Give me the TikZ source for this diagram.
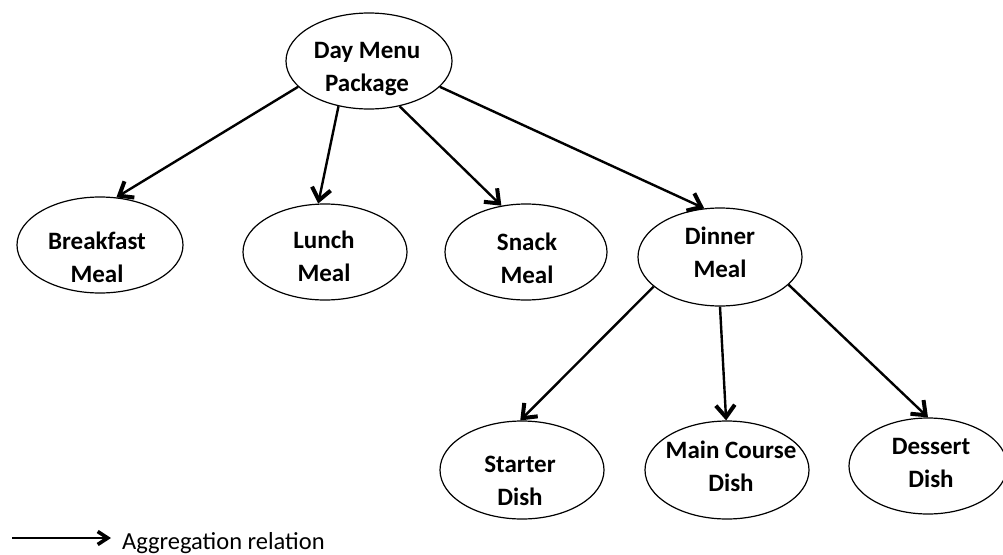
\documentclass[tikz,border=0pt]{standalone}
\usepackage{fontspec}
\setmainfont{Carlito}
\usetikzlibrary{shapes.geometric,arrows.meta}

\tikzset{
  meal/.style={draw, ellipse, line width=1.2pt, inner sep=0pt},
  lbl/.style={align=center, font=\bfseries\fontsize{25}{33}\selectfont,
              text height=49pt, text depth=0pt, inner sep=0pt},
  agg/.style={line width=2.4pt,
              -{Straight Barb[length=12pt,width=19pt,line width=4pt]}},
  aggkey/.style={line width=2pt,
              -{Straight Barb[length=10pt,width=13pt,line width=3.6pt]}}
}

\begin{document}
\begin{tikzpicture}[x=1pt,y=-1pt]
  \useasboundingbox (0,0) rectangle (1003,554);

  % package and meals
  \node[meal, minimum width=166pt, minimum height=96pt] (day) at (369,61) {};
  \node[meal, minimum width=166pt, minimum height=96pt] (bf)  at (100,245) {};
  \node[meal, minimum width=164pt, minimum height=96pt] (lu)  at (325,252) {};
  \node[meal, minimum width=162pt, minimum height=96pt] (sn)  at (526,252) {};
  \node[meal, minimum width=164pt, minimum height=98pt] (di)  at (720,257) {};
  % dishes of the dinner
  \node[meal, minimum width=164pt, minimum height=98pt] (st) at (522,470) {};
  \node[meal, minimum width=164pt, minimum height=98pt] (mc) at (727,470) {};
  \node[meal, minimum width=158pt, minimum height=96pt] (de) at (928,466) {};

  % labels
  \node[lbl] (day-t) at (367,67)  {Day Menu\\Package};
  \node[lbl] (bf-t)  at (97,258)  {Breakfast\\Meal};
  \node[lbl] (lu-t)  at (324,257) {Lunch\\Meal};
  \node[lbl] (sn-t)  at (527,259) {Snack\\Meal};
  \node[lbl] (di-t)  at (720,253) {Dinner\\Meal};
  \node[lbl] (st-t)  at (520,481) {Starter\\Dish};
  \node[lbl] (mc-t)  at (731,467) {Main Course\\Dish};
  \node[lbl] (de-t)  at (931,463) {Dessert\\Dish};

  % aggregation arrows
  \draw[agg] (day.200) -- (bf.71);
  \draw[agg] (day.236) -- (lu.98);
  \draw[agg] (day.304) -- (sn.118);
  \draw[agg] (day.340) -- (di.108);
  \draw[agg] (di.204)  -- (st.92);
  \draw[agg] (di.270)  -- (mc.91);
  \draw[agg] (di.338)  -- (de.90);

  % legend
  \coordinate (k0) at (12,538);
  \coordinate (k1) at (111,538);
  \draw[aggkey] (k0) -- (k1);
  \node[anchor=base west, font=\fontsize{24.5}{28}\selectfont, inner sep=0pt]
    (key) at (122,549) {Aggregation relation};
\end{tikzpicture}
\end{document}
